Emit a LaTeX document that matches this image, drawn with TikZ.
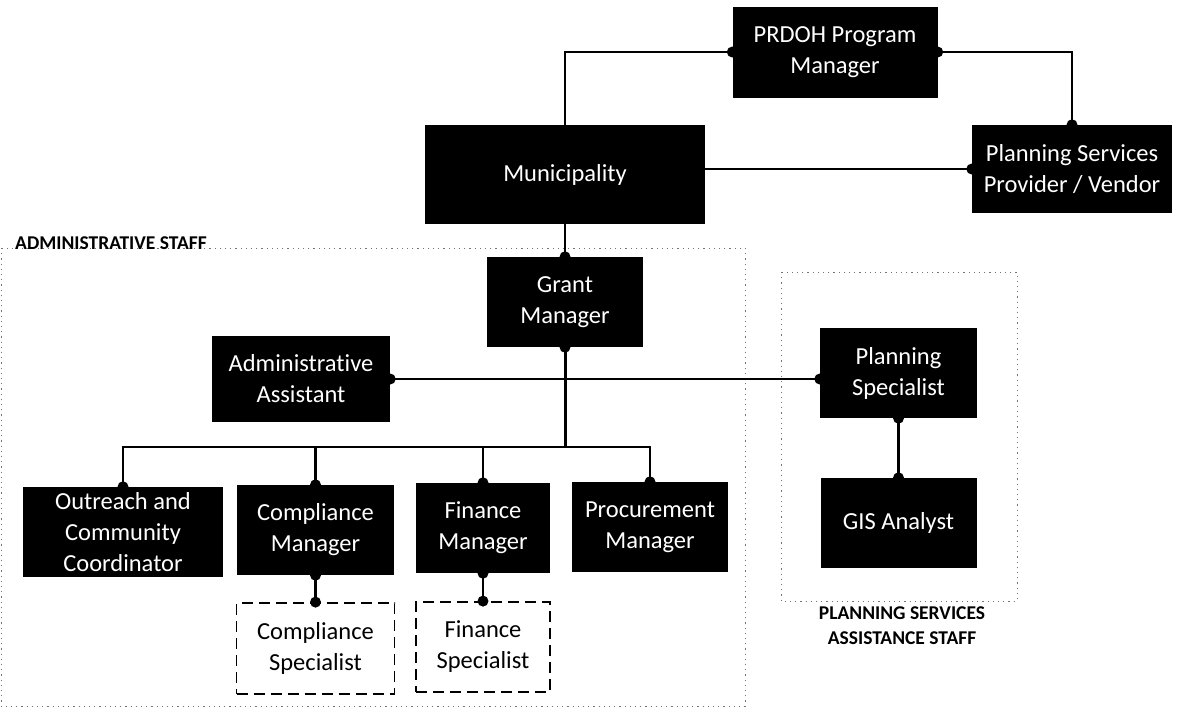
\documentclass[tikz,border=0pt]{standalone}
\usepackage{fontspec}
\setmainfont{Carlito}[Ligatures={NoCommon}]
\begin{document}
\begin{tikzpicture}[x=1pt,y=-1pt,
  box/.style={fill=black, text=white, align=center, inner sep=0pt,
    font=\fontsize{24.5}{31}\selectfont},
  dbox/.style={fill=white, draw=black, line width=1.8pt, dash pattern=on 11pt off 6pt,
    text=black, align=center, inner sep=0pt, font=\fontsize{24.5}{31}\selectfont},
  conn/.style={line width=2.2pt, draw=black},
  grp/.style={draw=black!55, line width=0.9pt, dash pattern=on 1.2pt off 4pt},
  grplabel/.style={font=\bfseries\fontsize{19.5}{25}\selectfont, inner sep=0pt, align=center},
  dotr/.style={radius=5.5pt}]
\useasboundingbox (0,0) rectangle (1177,715);

% group frames
\draw[grp] (1,248) rectangle (745,706);
\draw[grp] (781,272) rectangle (1017,601);
\node[grplabel, anchor=base west] (lbladmin) at (15,249) {ADMINISTRATIVE STAFF};
\node[grplabel] (lblplan) at (902,626) {PLANNING SERVICES\\ASSISTANCE STAFF};

% nodes
\node[box, minimum width=205pt, minimum height=91pt] (prdoh) at (835,52) {PRDOH Program\\Manager};
\node[box, minimum width=280pt, minimum height=99pt] (muni) at (565,174.5) {Municipality};
\node[box, minimum width=200pt, minimum height=88pt] (vendor) at (1072,169) {Planning Services\\Provider / Vendor};
\node[box, minimum width=156pt, minimum height=90pt] (grant) at (565,302) {Grant\\Manager};
\node[box, minimum width=178pt, minimum height=86pt] (admin) at (301,379) {Administrative\\Assistant};
\node[box, minimum width=157pt, minimum height=90pt] (ps) at (898.5,373) {Planning\\Specialist};
\node[box, minimum width=156pt, minimum height=90pt] (gis) at (898.5,523) {GIS Analyst};
\node[box, minimum width=200pt, minimum height=90pt] (outreach) at (123,532) {Outreach and\\Community\\Coordinator};
\node[box, minimum width=157pt, minimum height=90pt] (compm) at (315.5,530) {Compliance\\Manager};
\node[box, minimum width=134pt, minimum height=90pt] (finm) at (483,528) {Finance\\Manager};
\node[box, minimum width=156pt, minimum height=90pt] (procm) at (650,527) {Procurement\\Manager};
\node[dbox, minimum width=158pt, minimum height=91pt] (comps) at (315.5,648.5) {Compliance\\Specialist};
\node[dbox, minimum width=134pt, minimum height=90pt] (fins) at (483,647) {Finance\\Specialist};

\coordinate (bus) at (565,447);

% connectors
\draw[conn] (prdoh.west) -| (muni.north);
\draw[conn] (prdoh.east) -| (vendor.north);
\draw[conn] (vendor.west) -- (vendor.west -| muni.east);
\draw[conn] (muni.south) -- (grant.north);
\draw[conn, line width=3pt] (grant.south) -- (bus);
\draw[conn] (admin.east) -- (admin.east -| ps.west);
\draw[conn] (bus) -| (outreach.north);
\draw[conn] (bus) -| (compm.north);
\draw[conn] (bus) -| (finm.north);
\draw[conn, line width=2.6pt] (bus) -| (procm.north);
\draw[conn] (compm.south) -- (comps.north);
\draw[conn] (finm.south) -- (fins.north);
\draw[conn] (ps.south) -- (gis.north);

% connection dots
\foreach \p in {prdoh.west, prdoh.east, vendor.north, vendor.west,
  grant.north, grant.south, admin.east, outreach.north, compm.north, compm.south,
  finm.north, finm.south, procm.north, comps.north, fins.north, ps.south, gis.north}
  \fill (\p) circle[dotr];
\fill (admin.east -| ps.west) circle[dotr];
\end{tikzpicture}
\end{document}
